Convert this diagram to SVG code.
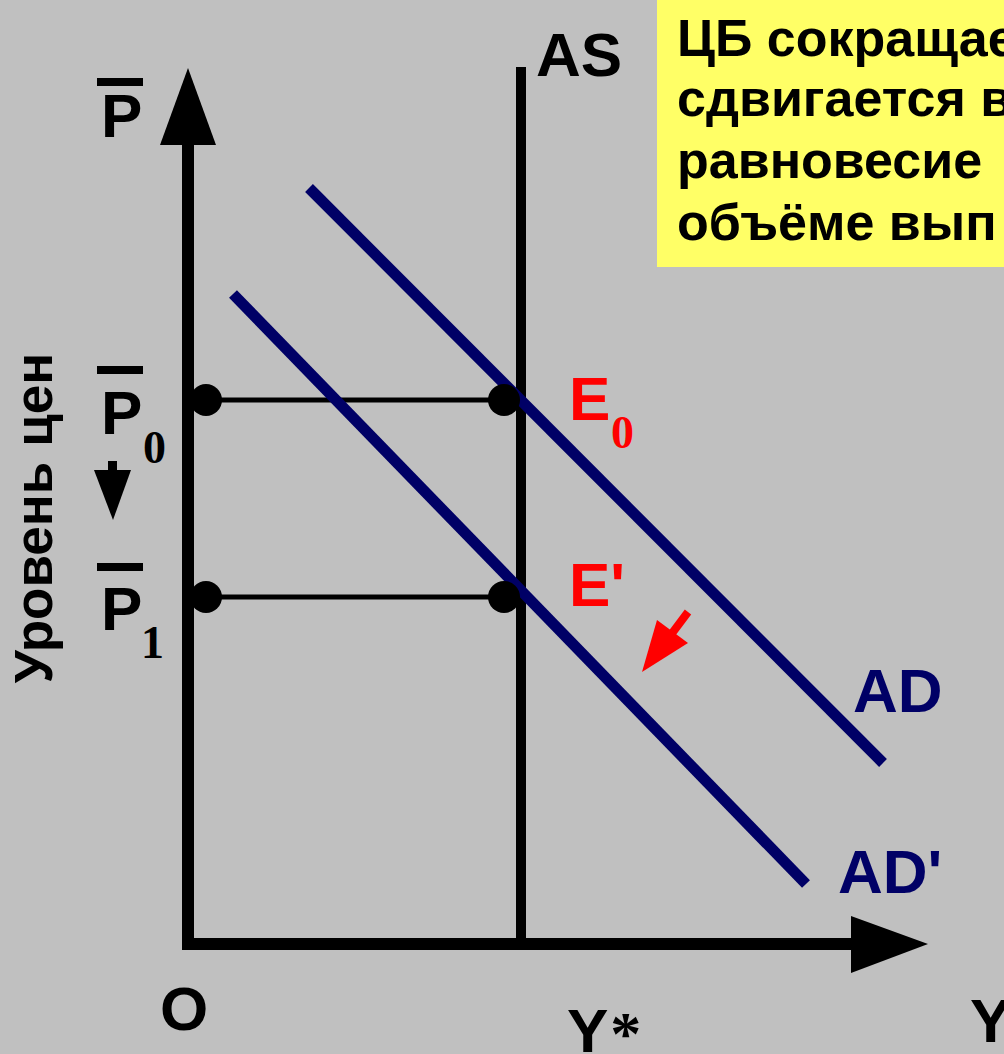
<svg xmlns="http://www.w3.org/2000/svg" width="1004" height="1054" viewBox="0 0 1004 1054">
<style>
.lbl{font-family:"Liberation Sans",Arial,sans-serif;font-weight:bold;font-size:62px}
.sub{font-family:"Liberation Serif","Times New Roman",serif;font-weight:bold;font-size:46px}
.box{font-family:"Liberation Sans",Arial,sans-serif;font-weight:bold;font-size:52px;fill:#000}
.ad{stroke:#000066;stroke-width:11;fill:none}
.hl{stroke:#000;stroke-width:5}
.red{fill:#ff0000}
.navy{fill:#000066}
</style>
<rect x="0" y="0" width="1004" height="1054" fill="#c0c0c0"/>
<g id="textbox">
<rect x="657" y="-5" width="360" height="272" fill="#ffff66"/>
<text class="box" x="677" y="56">ЦБ сокращае</text>
<text class="box" x="677" y="116">сдвигается в</text>
<text class="box" x="677" y="178">равновесие</text>
<text class="box" x="677" y="240">объёме вып</text>
</g>
<g id="axes">
<line x1="188" y1="140" x2="188" y2="950" stroke="#000" stroke-width="12"/>
<polygon points="160,145 188,68 216,145" fill="#000"/>
<line x1="182" y1="944" x2="860" y2="944" stroke="#000" stroke-width="12"/>
<polygon points="851,916 928,944 851,973" fill="#000"/>
</g>
<g id="AS">
<line x1="521" y1="67" x2="521" y2="944" stroke="#000" stroke-width="10"/>
</g>
<g id="connectors">
<line class="hl" x1="206" y1="400" x2="504" y2="400"/>
<line class="hl" x1="206" y1="597" x2="504" y2="597"/>
</g>
<g id="AD">
<line class="ad" x1="309" y1="188" x2="883" y2="763"/>
</g>
<g id="ADprime">
<line class="ad" x1="233" y1="294" x2="806" y2="884"/>
</g>
<g id="dots">
<circle cx="206" cy="400" r="16" fill="#000"/>
<circle cx="504" cy="400" r="16" fill="#000"/>
<circle cx="206" cy="597" r="16" fill="#000"/>
<circle cx="504" cy="597" r="16" fill="#000"/>
</g>
<g id="shift-arrow">
<line x1="688" y1="612" x2="670" y2="636" stroke="#ff0000" stroke-width="8"/>
<polygon points="657,620 688,643 642,672" fill="#ff0000"/>
</g>
<g id="price-arrow">
<rect x="108" y="461" width="9" height="12" fill="#000"/>
<polygon points="94,470 131,470 113,520" fill="#000"/>
</g>
<g id="labels">
<rect x="97" y="78" width="46" height="8" fill="#000"/>
<text class="lbl" x="101" y="137">P</text>
<rect x="97" y="366" width="46" height="8" fill="#000"/>
<text class="lbl" x="101" y="434">P</text>
<text class="sub" x="143" y="463">0</text>
<rect x="97" y="563" width="46" height="8" fill="#000"/>
<text class="lbl" x="101" y="630">P</text>
<text class="sub" x="141" y="658">1</text>
<text class="lbl" transform="translate(52,518) rotate(-90)" text-anchor="middle" style="font-size:53px">Уровень цен</text>
<text class="lbl" x="536" y="76">AS</text>
<text class="lbl red" x="569" y="420">E</text>
<text class="sub red" x="611" y="448">0</text>
<text class="lbl red" x="569" y="606">E'</text>
<text class="lbl navy" x="853" y="712">AD</text>
<text class="lbl navy" x="838" y="893">AD'</text>
<text class="lbl" x="160" y="1030">O</text>
<text class="lbl" x="567" y="1052">Y<tspan class="sub" style="font-size:62px" dx="2" dy="2">*</tspan></text>
<text class="lbl" x="970" y="1042">Y</text>
</g>
</svg>
